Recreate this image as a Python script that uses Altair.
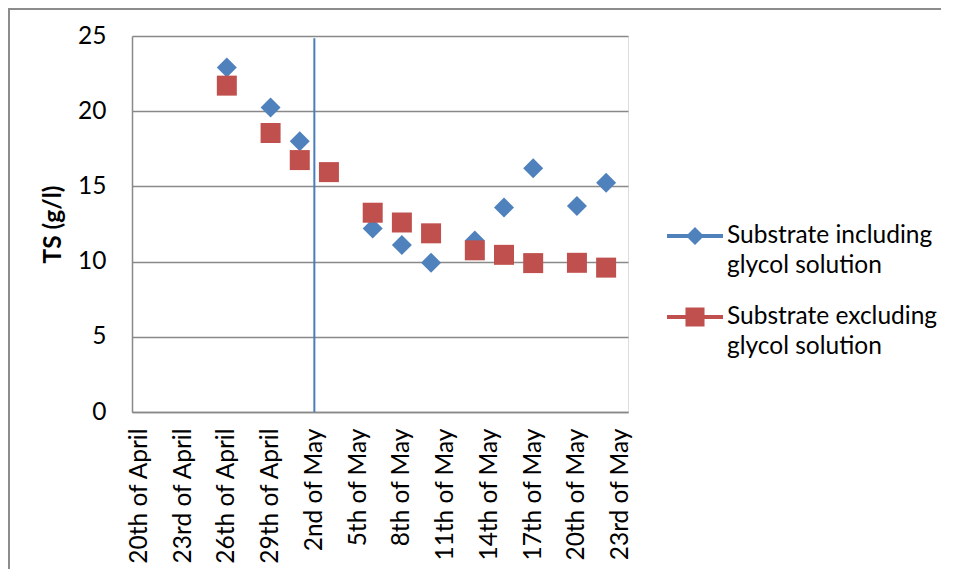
import json
import altair as alt

# ---- data ----
dates = ["2011-04-26", "2011-04-29", "2011-05-01", "2011-05-03", "2011-05-06", "2011-05-08",
         "2011-05-10", "2011-05-13", "2011-05-15", "2011-05-17", "2011-05-20", "2011-05-22"]
including = [22.9, 20.25, 18.0, None, 12.2, 11.1, 9.93, 11.4, 13.6, 16.2, 13.7, 15.25]
excluding = [21.7, 18.55, 16.75, 15.95, 13.25, 12.6, 11.88, 10.75, 10.45, 9.9, 9.92, 9.6]
series_names = ["Substrate including glycol solution", "Substrate excluding glycol solution"]

tick_dates = ["2011-04-20", "2011-04-23", "2011-04-26", "2011-04-29", "2011-05-02", "2011-05-05",
              "2011-05-08", "2011-05-11", "2011-05-14", "2011-05-17", "2011-05-20", "2011-05-23"]
tick_labels = ["20th of April", "23rd of April", "26th of April", "29th of April", "2nd of May",
               "5th of May", "8th of May", "11th of May", "14th of May", "17th of May",
               "20th of May", "23rd of May"]
vline_date = ["2011-05-02"]
vline_top = [24.85]
y_ticks = [0, 5, 10, 15, 20, 25]

BLUE = "#4F81BD"
RED = "#C0504D"
GRID = "#898989"
FONT = "Lato"
FS = 24.5

inc_values = [{"date": d, "ts": v} for d, v in zip(dates, including) if v is not None]
exc_values = [{"date": d, "ts": v} for d, v in zip(dates, excluding) if v is not None]


def dt(s, hours=0):
    y, m, d = (int(p) for p in s.split("-"))
    return alt.DateTime(year=y, month=m, date=d, hours=hours, utc=True)


x_scale = alt.Scale(type="utc", domain=[dt("2011-04-19", 12), dt("2011-05-23", 12)])
y_scale = alt.Scale(domain=[0, 25], nice=False)

label_expr = (f"{json.dumps(tick_labels)}[indexof({json.dumps(tick_dates)}, "
              f"utcFormat(datum.value, '%Y-%m-%d'))]")

x_axis = alt.Axis(values=[dt(s) for s in tick_dates], labelExpr=label_expr, labelAngle=-90,
                  labelPadding=16, ticks=False, grid=False, title=None,
                  labelFont=FONT, labelFontSize=FS, labelColor="black",
                  domainColor=GRID, domainWidth=1.5, labelOverlap=False)
y_axis = alt.Axis(values=y_ticks, ticks=False, grid=True, gridColor=GRID, gridWidth=1.3,
                  domainColor=GRID, domainWidth=1.5, labelPadding=26,
                  labelFont=FONT, labelFontSize=FS, labelColor="black",
                  title="TS (g/l)", titleFont=FONT, titleFontSize=FS, titleFontWeight="bold",
                  titleColor="black", titlePadding=12)

vline = alt.Chart(alt.Data(values=[{"date": d, "top": t} for d, t in zip(vline_date, vline_top)])).mark_rule(
    color="#4A7EBB", strokeWidth=2
).encode(
    x=alt.X("date:T", scale=x_scale, axis=x_axis),
    y=alt.Y("y0:Q", scale=y_scale, axis=y_axis),
    y2="top:Q",
).transform_calculate(y0="0")

blue_pts = alt.Chart(alt.Data(values=inc_values)).mark_point(
    shape="diamond", filled=True, color=BLUE, size=400, opacity=1
).encode(x=alt.X("date:T", scale=x_scale), y=alt.Y("ts:Q", scale=y_scale))

red_pts = alt.Chart(alt.Data(values=exc_values)).mark_point(
    shape="square", filled=True, color=RED, size=400, opacity=1
).encode(x=alt.X("date:T", scale=x_scale), y=alt.Y("ts:Q", scale=y_scale))

path_diamond = ("M-1,-0.07L-0.25,-0.07L0,-0.32L0.25,-0.07L1,-0.07L1,0.07L0.25,0.07"
                "L0,0.32L-0.25,0.07L-1,0.07Z")
path_square = ("M-1,-0.07L-0.34,-0.07L-0.34,-0.34L0.34,-0.34L0.34,-0.07L1,-0.07L1,0.07"
               "L0.34,0.07L0.34,0.34L-0.34,0.34L-0.34,0.07L-1,0.07Z")

legend = alt.Legend(orient="none", legendX=535, legendY=172, title=None, symbolSize=3136,
                    symbolStrokeWidth=0, labelFont=FONT, labelFontSize=FS, labelColor="black",
                    labelOffset=4, rowPadding=11, padding=0, labelLimit=400,
                    labelExpr="split(replace(datum.label, ' glycol', '|glycol'), '|')")

legend_layer = alt.Chart(alt.Data(values=[{"series": s} for s in series_names])).mark_point(
    filled=True, opacity=1, size=3136
).encode(
    color=alt.Color("series:N", scale=alt.Scale(domain=series_names, range=[BLUE, RED]), legend=legend),
    shape=alt.Shape("series:N", scale=alt.Scale(domain=series_names, range=[path_diamond, path_square]),
                    legend=legend),
).transform_filter("false")

frame_top = alt.Chart(alt.Data(values=[{"a": 0}])).mark_rule(color="#8C8C8C", strokeWidth=2).encode(
    x=alt.value(-124), x2=alt.value(820), y=alt.value(-27))
frame_left = alt.Chart(alt.Data(values=[{"a": 0}])).mark_rule(color="#8C8C8C", strokeWidth=2).encode(
    x=alt.value(-123), y=alt.value(-28), y2=alt.value(600))

chart = alt.layer(vline, blue_pts, red_pts, legend_layer, frame_top, frame_left).properties(
    width=496, height=376,
    padding={"left": 124, "top": 28, "right": 313, "bottom": 157},
    autosize=alt.AutoSizeParams(type="none"),
).configure_view(stroke=None).configure(
    style={"guide-label": {"lineHeight": 30}}
)

chart.save("out.html", embed_options={"renderer": "svg", "actions": False})
